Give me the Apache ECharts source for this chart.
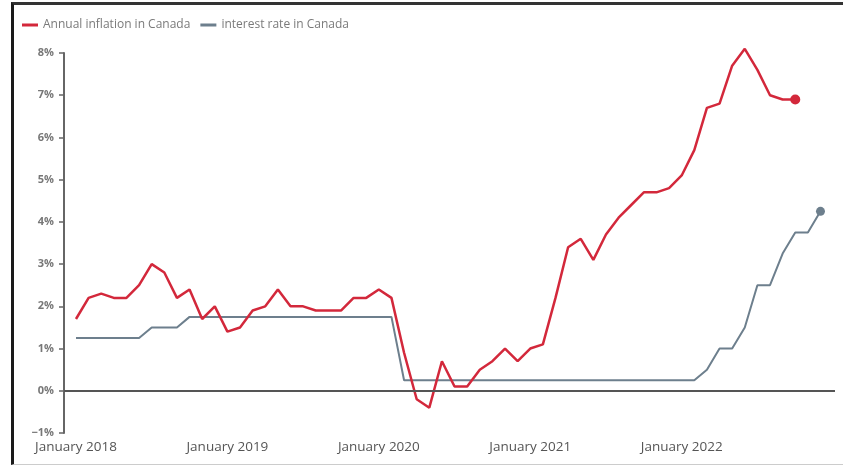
<!DOCTYPE html>
<html>
<head>
<meta charset="utf-8">
<script src="https://cdn.jsdelivr.net/npm/echarts@6/dist/echarts.min.js"></script>
<style>
html,body{margin:0;padding:0;background:#fff;}
#frame{position:absolute;left:11px;top:2px;width:832px;height:463px;border-left:3px solid #1a1a1a;border-top:3px solid #333;border-bottom:1px solid #ccc;box-sizing:border-box;}
#chart{position:absolute;left:0;top:0;width:843px;height:469px;}
</style>
</head>
<body>
<div id="frame"></div>
<div id="chart"></div>
<script>
// Monthly values starting January 2018
const startYear = 2018;
const inflation = [
  1.7, 2.2, 2.3, 2.2, 2.2, 2.5, 3.0, 2.8, 2.2, 2.4, 1.7, 2.0,
  1.4, 1.5, 1.9, 2.0, 2.4, 2.0, 2.0, 1.9, 1.9, 1.9, 2.2, 2.2,
  2.4, 2.2, 0.9, -0.2, -0.4, 0.7, 0.1, 0.1, 0.5, 0.7, 1.0, 0.7,
  1.0, 1.1, 2.2, 3.4, 3.6, 3.1, 3.7, 4.1, 4.4, 4.7, 4.7, 4.8,
  5.1, 5.7, 6.7, 6.8, 7.7, 8.1, 7.6, 7.0, 6.9, 6.9
];
const interestRate = [
  1.25, 1.25, 1.25, 1.25, 1.25, 1.25, 1.5, 1.5, 1.5, 1.75, 1.75, 1.75,
  1.75, 1.75, 1.75, 1.75, 1.75, 1.75, 1.75, 1.75, 1.75, 1.75, 1.75, 1.75,
  1.75, 1.75, 0.25, 0.25, 0.25, 0.25, 0.25, 0.25, 0.25, 0.25, 0.25, 0.25,
  0.25, 0.25, 0.25, 0.25, 0.25, 0.25, 0.25, 0.25, 0.25, 0.25, 0.25, 0.25,
  0.25, 0.25, 0.5, 1.0, 1.0, 1.5, 2.5, 2.5, 3.25, 3.75, 3.75, 4.25
];
const xTickMonths = [0, 12, 24, 36, 48];
const xTickLabels = ['January 2018', 'January 2019', 'January 2020', 'January 2021', 'January 2022'];

function toPoints(arr, color, size) {
  return arr.map((v, i) => {
    if (i === arr.length - 1) {
      return { value: [i, v], symbol: 'circle', symbolSize: size, itemStyle: { color: color } };
    }
    return { value: [i, v], symbol: 'none' };
  });
}

const RED = '#d3283b';
const GREY = '#6d7f8d';

const chart = echarts.init(document.getElementById('chart'));
chart.setOption({
  animation: false,
  backgroundColor: 'transparent',
  legend: {
    left: 17, top: 14,
    itemWidth: 16, itemHeight: 3, itemGap: 10,
    icon: 'rect',
    textStyle: { color: '#7a7a7a', fontSize: 12, fontFamily: 'Open Sans' },
    data: ['Annual inflation in Canada', 'interest rate in Canada']
  },
  grid: { left: 64, right: 8, top: 53, bottom: 36, containLabel: false },
  xAxis: {
    type: 'value',
    min: -0.95, max: 60.15,
    splitLine: { show: false },
    axisLine: { show: false },
    axisTick: { show: false },
    axisLabel: {
      customValues: xTickMonths,
      formatter: function (v) {
        const i = xTickMonths.indexOf(Math.round(v));
        return i >= 0 ? xTickLabels[i] : '';
      },
      color: '#555', fontSize: 13.5, fontFamily: 'Open Sans', margin: 7
    }
  },
  yAxis: {
    type: 'value',
    min: -1, max: 8, interval: 1,
    splitLine: { show: false },
    axisLine: { show: true, onZero: false, lineStyle: { color: '#666', width: 2 } },
    axisTick: { show: true, length: 5, lineStyle: { color: '#666', width: 1.5 } },
    axisLabel: {
      formatter: function (v) { return (v < 0 ? '\u22121' : v) + '%'; },
      color: '#777', fontSize: 11, fontWeight: 'bold', fontFamily: 'Open Sans', margin: 10
    }
  },
  series: [
    {
      name: 'Annual inflation in Canada',
      type: 'line',
      data: toPoints(inflation, RED, 10),
      showSymbol: true,
      symbol: 'none',
      clip: false,
      lineStyle: { color: RED, width: 2.5 },
      itemStyle: { color: RED },
      z: 3,
      markLine: {
        silent: true, symbol: 'none', animation: false,
        label: { show: false },
        lineStyle: { color: '#555', width: 2, type: 'solid' },
        data: [{ yAxis: 0 }]
      }
    },
    {
      name: 'interest rate in Canada',
      type: 'line',
      data: toPoints(interestRate, GREY, 9),
      showSymbol: true,
      symbol: 'none',
      clip: false,
      lineStyle: { color: GREY, width: 2 },
      itemStyle: { color: GREY },
      z: 2
    }
  ]
});
</script>
</body>
</html>
